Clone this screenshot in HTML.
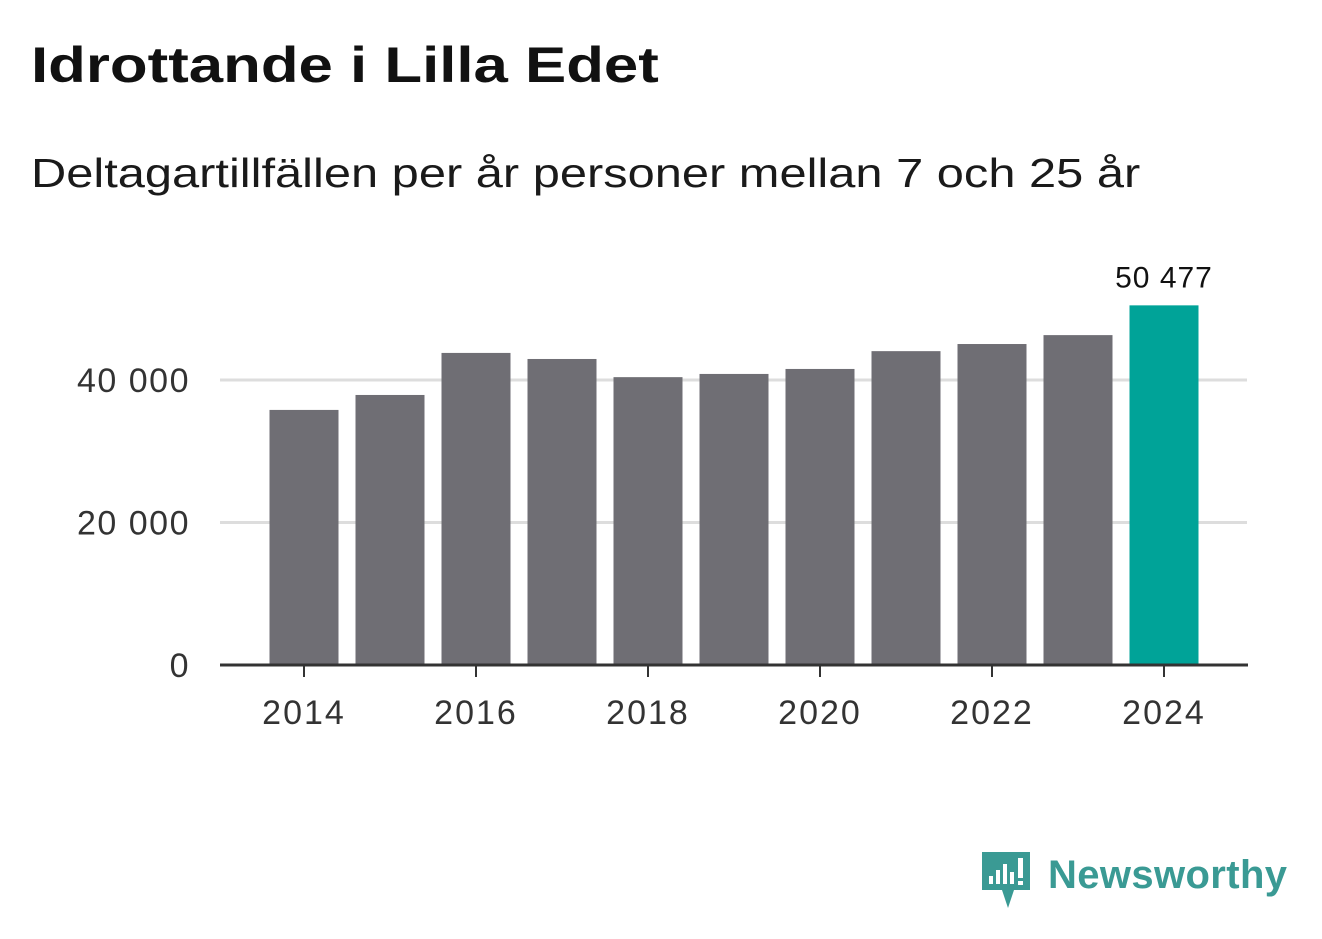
<!DOCTYPE html>
<html><head><meta charset="utf-8"><style>
body{margin:0;width:1322px;height:939px;background:#fff;font-family:"Liberation Sans",sans-serif;overflow:hidden;position:relative}
#title{position:absolute;left:31px;top:36px;font-size:50px;font-weight:bold;color:#111;margin:0;transform:scaleX(1.235);transform-origin:left top;white-space:nowrap}
#sub{position:absolute;left:31px;top:150px;font-size:41px;color:#1a1a1a;transform:scaleX(1.19);transform-origin:left top;white-space:nowrap}
svg{position:absolute;left:0;top:0}
</style></head><body>
<h1 id="title">Idrottande i Lilla Edet</h1>
<div id="sub">Deltagartillfällen per år personer mellan 7 och 25 år</div>
<svg id="chart" width="1322" height="939">
<g>
<path d="M982 852h48v38h-16l-6 18-6-18h-20z" fill="#3a9a94"/>
<rect x="989" y="876" width="4" height="8" fill="#fff"/><rect x="996" y="870" width="4" height="14" fill="#fff"/><rect x="1003" y="864" width="4" height="20" fill="#fff"/><rect x="1010" y="872" width="4" height="12" fill="#fff"/><rect x="1018" y="858" width="5" height="20" fill="#fff"/><rect x="1018" y="881" width="5" height="4" fill="#fff"/>
<text x="1048" y="888" font-size="40" font-weight="bold" fill="#3a9a94" font-family="Liberation Sans, sans-serif" textLength="239">Newsworthy</text>
</g>
</svg>
<script>
const years=[2014,2015,2016,2017,2018,2019,2020,2021,2022,2023,2024];
const values=[35800,37900,43800,42950,40400,40850,41550,44050,45050,46300,50477];
const yTicks=[0,20000,40000];
const yTickLabels=["0","20 000","40 000"];
const xTicks=[2014,2016,2018,2020,2022,2024];
const svg=document.getElementById('chart');const NS='http://www.w3.org/2000/svg';
const y=v=>665-v*285/40000;
const x=yr=>304+(yr-2014)*86;
function mk(t,a){const e=document.createElementNS(NS,t);for(const k in a)e.setAttribute(k,a[k]);svg.appendChild(e);return e;}
yTicks.forEach((t,i)=>{
 if(t>0){const g=mk('line',{x1:220,x2:1247,y1:y(t),y2:y(t),stroke:'#ddd','stroke-width':3});
 
 }
 const l=mk('text',{x:190,y:y(t)+12,'text-anchor':'end','font-size':34,fill:'#333','letter-spacing':1.5});l.textContent=yTickLabels[i];
 
 
});
years.forEach((yr,i)=>{
 const last=i===years.length-1;
 const r=mk('rect',{x:x(yr)-34.5,y:y(values[i]),width:69,height:665-y(values[i]),fill:last?'#00a398':'#6f6e74'});
 
 
 if(last){const t=mk('text',{x:x(yr),y:y(values[i])-18,'text-anchor':'middle','font-size':30,fill:'#111','letter-spacing':1});
 t.textContent=values[i].toLocaleString('sv-SE').replace(/\s/g,' ');
 
 }
});
const ax=mk('line',{x1:220,x2:1248,y1:665,y2:665,stroke:'#333','stroke-width':3});


xTicks.forEach(yr=>{
 const tk=mk('line',{x1:x(yr),x2:x(yr),y1:665,y2:677,stroke:'#333','stroke-width':2});
 
 
 const l=mk('text',{x:x(yr),y:724,'text-anchor':'middle','font-size':34,fill:'#333','letter-spacing':2});l.textContent=yr;
 
 
});
</script>
</body></html>
